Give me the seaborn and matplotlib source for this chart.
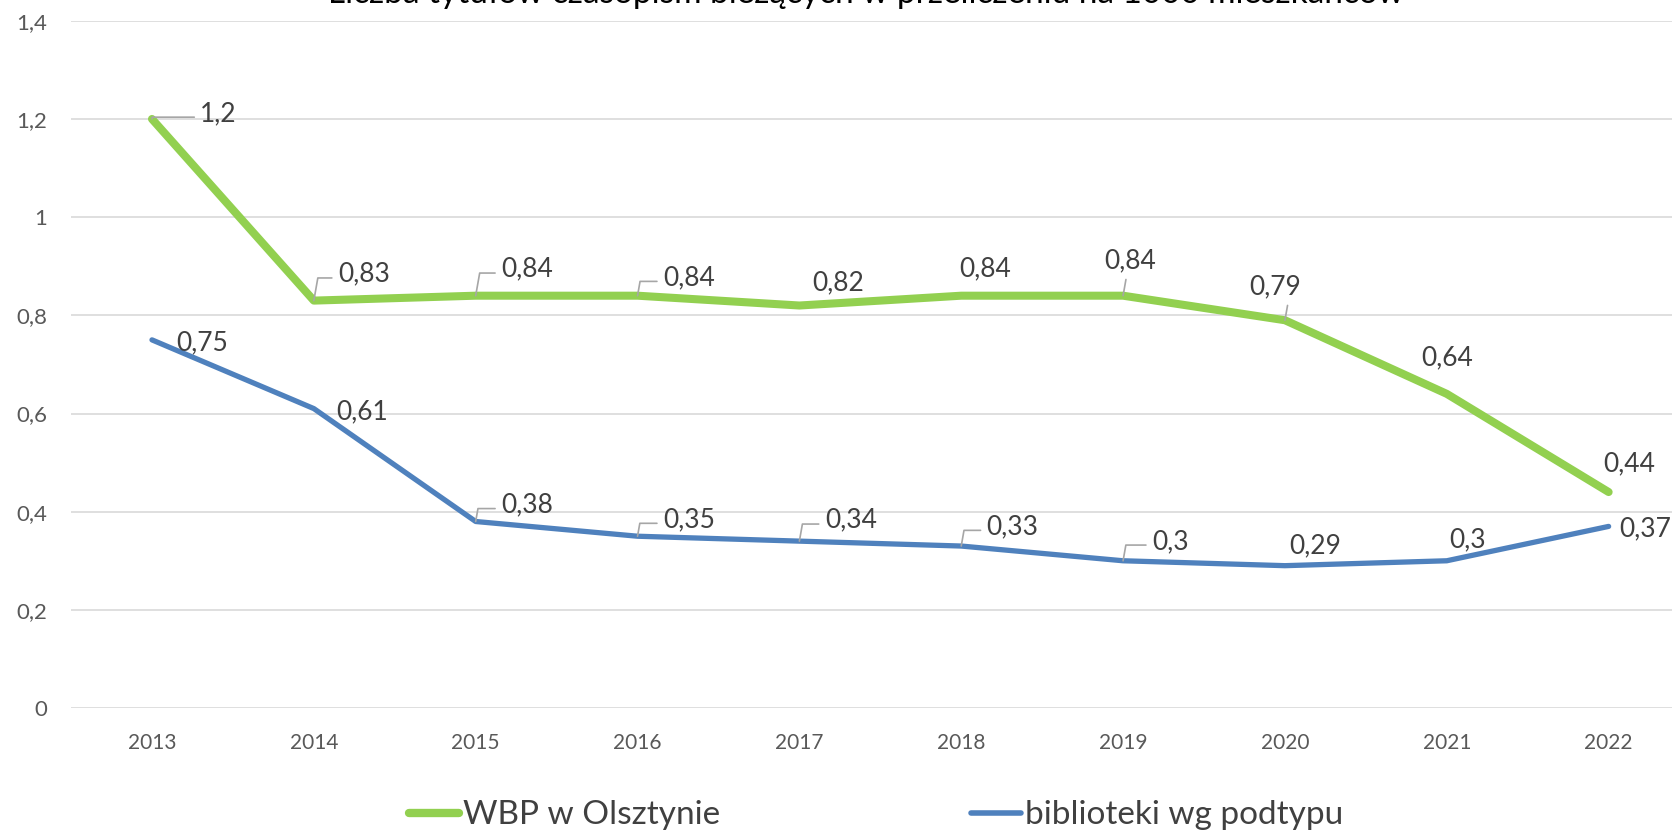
import numpy as np
import pandas as pd
import matplotlib
matplotlib.use("Agg")
import matplotlib.pyplot as plt
import seaborn as sns
from matplotlib.ticker import FuncFormatter

years = [2013, 2014, 2015, 2016, 2017, 2018, 2019, 2020, 2021, 2022]
wbp = [1.2, 0.83, 0.84, 0.84, 0.82, 0.84, 0.84, 0.79, 0.64, 0.44]
podtyp = [0.75, 0.61, 0.38, 0.35, 0.34, 0.33, 0.30, 0.29, 0.30, 0.37]
series_names = ["WBP w Olsztynie", "biblioteki wg podtypu"]
title = "Liczba tytułów czasopism bieżących w przeliczeniu na 1000 mieszkańców"

# label offsets (points) and whether Excel drew a leader line
wbp_offsets = [(48, 4), (36, 19), (37, 19), (37, 13), (28, 16), (17, 19), (5, 25), (-7, 24), (0, 26), (15, 20)]
wbp_leader = [True, True, True, True, False, False, True, True, False, False]
pod_offsets = [(36, -2), (35, -2), (37, 12), (37, 12), (37, 15), (37, 14), (34, 14), (22, 14), (15, 15), (26, -2)]
pod_leader = [False, False, True, True, True, True, True, False, False, False]

green = "#92D050"
blue = "#4F81BD"

df = pd.DataFrame({
    "pos": list(range(len(years))) * 2,
    "value": wbp + podtyp,
    "series": [series_names[0]] * len(years) + [series_names[1]] * len(years),
})

sns.set_style("white")
plt.rcParams["font.family"] = ["Lato", "DejaVu Sans"]

fig = plt.figure(figsize=(16.72, 8.32), dpi=100)
ax = fig.add_axes([0.0425, 0.149, 0.968, 0.826])

sns.lineplot(data=df, x="pos", y="value", hue="series",
             palette={series_names[0]: green, series_names[1]: blue},
             ax=ax, legend=False, sort=False)
ax.lines[0].set_linewidth(5.8)
ax.lines[1].set_linewidth(3.8)
for ln in ax.lines:
    ln.set_solid_capstyle("round")
    ln.set_solid_joinstyle("round")
    ln.set_zorder(3)

ax.set_xlim(-0.5, len(years) - 0.5)
ax.set_ylim(0, 1.4)
ax.set_yticks(np.arange(0, 1.41, 0.2))
ax.yaxis.set_major_formatter(FuncFormatter(lambda v, _: f"{v:.1f}".rstrip("0").rstrip(".").replace(".", ",")))
ax.set_xticks(range(len(years)))
ax.set_xticklabels([str(y) for y in years])
ax.tick_params(axis="x", length=0, pad=18, labelsize=15, labelcolor="#595959")
ax.tick_params(axis="y", length=0, pad=17, labelsize=16, labelcolor="#595959")
ax.grid(axis="y", color="#D9D9D9", lw=1.2)
ax.set_axisbelow(True)
for s in ax.spines.values():
    s.set_visible(False)
ax.set_xlabel("")
ax.set_ylabel("")


def put_labels(vals, offsets, leaders):
    for i, (v, (dx, dy), lead) in enumerate(zip(vals, offsets, leaders)):
        txt = f"{v:g}".replace(".", ",")
        kw = {}
        if lead:
            kw["arrowprops"] = dict(arrowstyle="-", color="#A6A6A6", lw=1.2,
                                    connectionstyle="angle,angleA=0,angleB=80,rad=0",
                                    relpos=(0, 0.35), shrinkA=2, shrinkB=0)
        ax.annotate(txt, xy=(i, v), xytext=(dx, dy), textcoords="offset points",
                    ha="center", va="center", fontsize=19, color="#404040",
                    zorder=4, **kw)


put_labels(wbp, wbp_offsets, wbp_leader)
put_labels(podtyp, pod_offsets, pod_leader)

fig.text(0.518, 0.9964, title, ha="center", va="baseline", fontsize=24, color="#000000")

handles = [plt.Line2D([], [], color=green, lw=6, solid_capstyle="round"),
           plt.Line2D([], [], color=blue, lw=4, solid_capstyle="round")]
fig.legend(handles, series_names, loc="center", bbox_to_anchor=(0.524, 0.02), ncol=2,
           frameon=False, fontsize=24, handlelength=1.5, handletextpad=0.1,
           columnspacing=7.55, labelcolor="#404040")

fig.savefig("out.png", dpi=100)
